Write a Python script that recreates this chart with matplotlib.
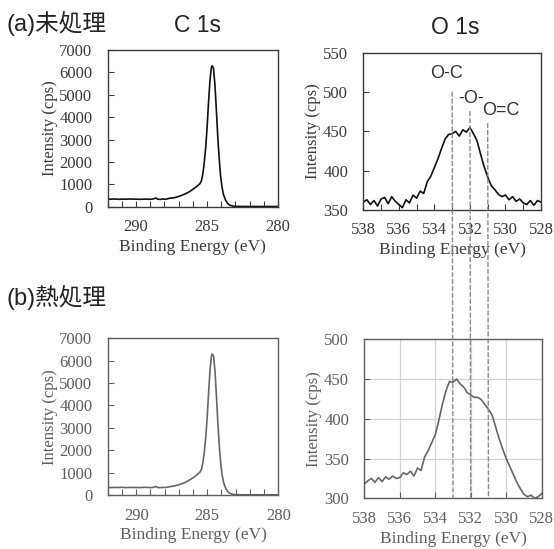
import matplotlib
matplotlib.use("Agg")
import matplotlib.pyplot as plt
from matplotlib.patches import ConnectionPatch
from matplotlib.ticker import MultipleLocator

# ---------------- data ----------------
c1s_energy = [292.0, 291.8, 291.5, 291.2, 291.0, 290.7, 290.4, 290.0, 289.7, 289.4,
              289.0, 288.8, 288.6, 288.5, 288.3, 288.1, 287.9, 287.7, 287.5, 287.3,
              287.1, 286.9, 286.7, 286.5, 286.3, 286.1, 285.9, 285.7, 285.5, 285.4,
              285.3, 285.2, 285.1, 285.0, 284.9, 284.8, 284.7, 284.65, 284.55, 284.45,
              284.35, 284.25, 284.15, 284.05, 283.95, 283.85, 283.7, 283.55, 283.4, 283.2,
              283.0, 282.5, 282.0, 281.5, 281.0, 280.5, 280.0]
c1s_untreated = [340, 335, 345, 330, 340, 335, 345, 335, 330, 340,
                 330, 345, 390, 340, 325, 345, 330, 370, 390, 400,
                 440, 480, 530, 580, 650, 730, 820, 920, 1030, 1150,
                 1450, 1950, 2600, 3500, 4600, 5600, 6200, 6300, 6200, 5500,
                 4400, 3200, 2200, 1400, 900, 560, 300, 150, 70, 30,
                 15, 10, 8, 10, 8, 10, 8]
c1s_heated = [345, 330, 340, 335, 345, 330, 340, 335, 330, 345,
              330, 340, 385, 335, 330, 340, 335, 365, 385, 405,
              440, 475, 525, 575, 650, 725, 815, 915, 1030, 1160,
              1460, 1950, 2600, 3500, 4600, 5600, 6200, 6300, 6200, 5500,
              4400, 3200, 2200, 1400, 900, 560, 300, 150, 70, 30,
              15, 10, 8, 10, 8, 10, 8]

o1s_energy = [538.0, 537.8, 537.6, 537.4, 537.2, 537.0, 536.8, 536.6, 536.4, 536.2,
              536.0, 535.8, 535.6, 535.4, 535.2, 535.0, 534.8, 534.6, 534.4, 534.2,
              534.0, 533.8, 533.6, 533.4, 533.2, 533.0, 532.8, 532.6, 532.4, 532.2,
              532.0, 531.8, 531.6, 531.4, 531.2, 531.0, 530.8, 530.6, 530.4, 530.2,
              530.0, 529.8, 529.6, 529.4, 529.2, 529.0, 528.8, 528.6, 528.4, 528.2,
              528.0]
o1s_untreated = [360, 363, 357, 362, 355, 364, 366, 358, 367, 361,
                 357, 353, 363, 359, 369, 365, 374, 371, 386, 393,
                 404, 415, 428, 440, 446, 447, 450, 444, 452, 449,
                 455, 447, 438, 421, 405, 392, 381, 376, 370, 367,
                 369, 363, 367, 361, 364, 359, 357, 362, 356, 362,
                 360]
o1s_heated = [318, 322, 325, 320, 326, 321, 327, 324, 328, 325,
              326, 332, 330, 334, 328, 338, 335, 352, 360, 370,
              380, 398, 418, 435, 447, 446, 450, 444, 440, 433,
              430, 427, 427, 424, 418, 412, 405, 390, 375, 362,
              350, 340, 330, 320, 312, 305, 302, 304, 300, 302,
              306]

peak_labels = ["O-C", "-O-", "O=C"]
peak_positions = [533.0, 532.0, 531.0]
peak_line_tops = [500, 475, 460]
peak_label_xy = [(533.3, 524), (531.95, 492), (530.25, 477)]

# ---------------- figure ----------------
W, H = 554, 549
fig = plt.figure(figsize=(W / 100, H / 100), dpi=100)

serif = ["Liberation Serif", "DejaVu Serif"]
sans = ["Liberation Sans", "DejaVu Sans"]
title_fam = ["Liberation Sans", "Noto Sans CJK JP", "DejaVu Sans"]


def style_axes(ax, color, ylab_x):
    for s in ax.spines.values():
        s.set_color(color)
        s.set_linewidth(1.0)
    ax.tick_params(which="both", direction="in", colors=color, labelcolor=color,
                   length=4, width=0.8, top=False, right=False)
    ax.tick_params(axis="x", which="major", pad=9)
    ax.tick_params(axis="y", which="major", pad=11)
    for lab in ax.get_xticklabels() + ax.get_yticklabels():
        lab.set_fontfamily(serif)
        lab.set_fontsize(12)
    ax.set_xlabel("Binding Energy (eV)", fontfamily=serif, fontsize=12.5,
                  color=color)
    ax.set_ylabel("Intensity (cps)", fontfamily=serif, fontsize=12,
                  color=color)
    ax.xaxis.set_label_coords(0.5, -0.255)
    ax.xaxis.label.set_va("center")
    ax.yaxis.set_label_coords(ylab_x, 0.5)
    ax.yaxis.label.set_va("center")


def rect(l, t, r, b):
    return [l / W, 1 - b / H, (r - l) / W, (b - t) / H]


ax_tl = fig.add_axes(rect(107.7, 50, 278, 206.7))
ax_tr = fig.add_axes(rect(363.3, 52.7, 541, 210))
ax_bl = fig.add_axes(rect(107.7, 338.3, 278.3, 495))
ax_br = fig.add_axes(rect(364.3, 339.3, 541.7, 498.3))

top_col = "#3a3a3a"
bot_col = "#5e5e5e"

# C 1s panels
for ax, y, col in [(ax_tl, c1s_untreated, "#111111"), (ax_bl, c1s_heated, "#666666")]:
    ax.plot(c1s_energy, y, color=col, lw=1.2)
    ax.set_xlim(292, 280)
    ax.set_ylim(0, 7000)
    ax.xaxis.set_major_locator(MultipleLocator(5))
    ax.xaxis.set_minor_locator(MultipleLocator(1))
    ax.yaxis.set_major_locator(MultipleLocator(1000))

# O 1s panels
ax_tr.plot(o1s_energy, o1s_untreated, color="#111111", lw=1.2)
ax_tr.set_xlim(538, 528)
ax_tr.set_ylim(350, 550)
ax_tr.xaxis.set_major_locator(MultipleLocator(2))
ax_tr.xaxis.set_minor_locator(MultipleLocator(1))
ax_tr.yaxis.set_major_locator(MultipleLocator(50))

ax_br.plot(o1s_energy, o1s_heated, color="#666666", lw=1.2)
ax_br.set_xlim(538, 528)
ax_br.set_ylim(300, 500)
ax_br.xaxis.set_major_locator(MultipleLocator(2))
ax_br.yaxis.set_major_locator(MultipleLocator(50))
ax_br.grid(True, color="#d4d4d4", lw=0.9)
ax_br.set_axisbelow(True)

style_axes(ax_tl, top_col, -0.34)
style_axes(ax_tr, top_col, -0.285)
style_axes(ax_bl, bot_col, -0.34)
style_axes(ax_br, bot_col, -0.285)

# peak labels and dashed guide lines
for lab, (lx, ly) in zip(peak_labels, peak_label_xy):
    ax_tr.text(lx, ly, lab, ha="center", va="center", fontsize=13,
               fontfamily=sans, color="#333333")

for xpos, ytop in zip(peak_positions, peak_line_tops):
    con = ConnectionPatch(xyA=(xpos, ytop), coordsA=ax_tr.transData,
                          xyB=(xpos, 300), coordsB=ax_br.transData,
                          color="#8a8a8a", lw=1.0, linestyle=(0, (3, 2)))
    fig.add_artist(con)

# titles
fig.text(7 / W, 1 - 23 / H, "(a)未処理", fontfamily=title_fam, fontsize=17,
         ha="left", va="center", color="#222222")
fig.text(197 / W, 1 - 25 / H, "C 1s", fontfamily=title_fam, fontsize=16.5,
         ha="center", va="center", color="#222222")
fig.text(455 / W, 1 - 27 / H, "O 1s", fontfamily=title_fam, fontsize=16.5,
         ha="center", va="center", color="#222222")
fig.text(7 / W, 1 - 297 / H, "(b)熱処理", fontfamily=title_fam, fontsize=17,
         ha="left", va="center", color="#222222")

fig.savefig("out.png", dpi=100)
